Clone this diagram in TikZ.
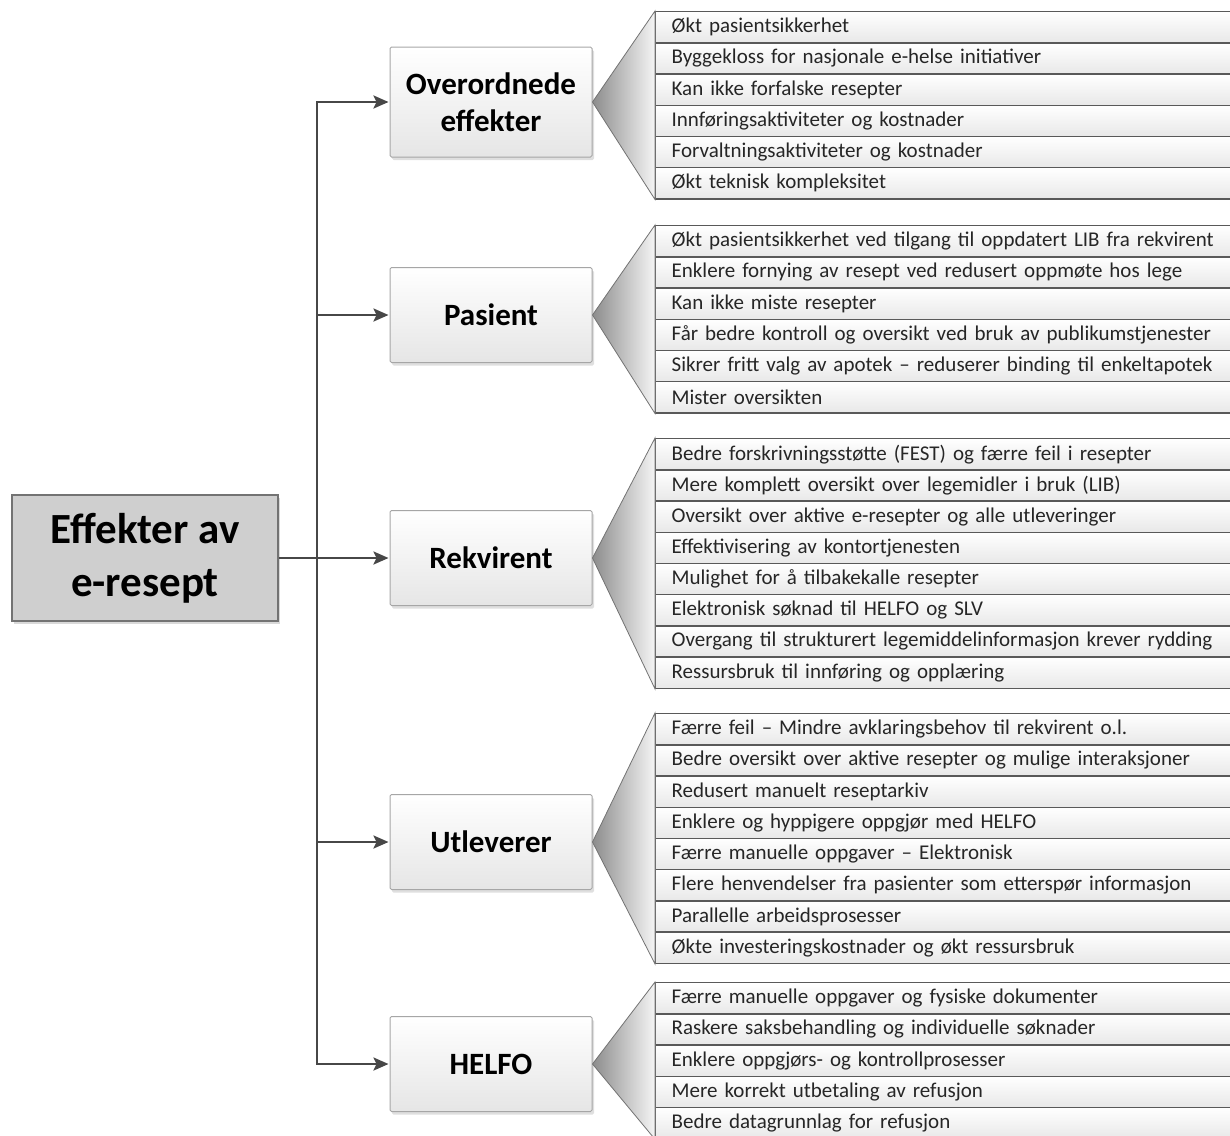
\documentclass[tikz,border=0pt]{standalone}
\usepackage{fontspec}
\setmainfont{Carlito}
\usetikzlibrary{arrows.meta,shadows}

\begin{document}
\begin{tikzpicture}[x=1pt,y=-1pt,
  rootbox/.style={draw=black!55, fill=black!19, line width=1.2pt,
    drop shadow={shadow xshift=2pt, shadow yshift=-3pt, opacity=0.3},
    minimum width=266pt, minimum height=126pt, align=center,
    font=\fontsize{43}{53}\selectfont\bfseries},
  catbox/.style={draw=black!35, top color=white, bottom color=black!10,
    line width=1pt, rounded corners=1.5pt,
    drop shadow={shadow xshift=2pt, shadow yshift=-3pt, opacity=0.25},
    minimum width=202pt, minimum height=95pt, align=center,
    font=\fontsize{31}{37}\selectfont\bfseries},
  rowbox/.style={draw=black!65, top color=white, bottom color=black!9,
    line width=1.3pt, anchor=north west, text width=630pt, inner xsep=16pt,
    minimum height=31.2pt, align=left, text=black!85,
    font=\fontsize{21}{24}\selectfont},
  fan/.style={draw=black!55, line width=0.8pt, left color=black!45, right color=black!4},
  link/.style={draw=black!72, line width=2.4pt},
  tip/.style={link, -{Stealth[length=15pt,width=13pt,inset=3pt]}, shorten >=1pt}
]
\useasboundingbox (0,0) rectangle (1230,1135);
\clip (0,0) rectangle (1230,1135);
% root
\node[rootbox] (root) at (145,558) {Effekter av\\e-resept};
% categories
\node[catbox, minimum height=110pt] (ov) at (491,102) {Overordnede\\effekter};
\node[catbox] (pa) at (491,315) {Pasient};
\node[catbox] (rk) at (491,558) {Rekvirent};
\node[catbox] (ut) at (491,842) {Utleverer};
\node[catbox] (he) at (491,1064) {HELFO};
% Overordnede effekter
\node[rowbox] (o1) at (655,11) {Økt pasientsikkerhet};
\node[rowbox] (o2) at (655,42.2) {Byggekloss for nasjonale e-helse initiativer};
\node[rowbox] (o3) at (655,73.4) {Kan ikke forfalske resepter};
\node[rowbox] (o4) at (655,104.6) {Innføringsaktiviteter og kostnader};
\node[rowbox] (o5) at (655,135.8) {Forvaltningsaktiviteter og kostnader};
\node[rowbox] (o6) at (655,167) {Økt teknisk kompleksitet};
% Pasient
\node[rowbox] (p1) at (655,225) {Økt pasientsikkerhet ved tilgang til oppdatert LIB fra rekvirent};
\node[rowbox] (p2) at (655,256.2) {Enklere fornying av resept ved redusert oppmøte hos lege};
\node[rowbox] (p3) at (655,287.4) {Kan ikke miste resepter};
\node[rowbox] (p4) at (655,318.6) {Får bedre kontroll og oversikt ved bruk av publikumstjenester};
\node[rowbox] (p5) at (655,349.8) {Sikrer fritt valg av apotek – reduserer binding til enkeltapotek};
\node[rowbox] (p6) at (655,381) {Mister oversikten};
% Rekvirent
\node[rowbox] (r1) at (655,438) {Bedre forskrivningsstøtte (FEST) og færre feil i resepter};
\node[rowbox] (r2) at (655,469.2) {Mere komplett oversikt over legemidler i bruk (LIB)};
\node[rowbox] (r3) at (655,500.4) {Oversikt over aktive e-resepter og alle utleveringer};
\node[rowbox] (r4) at (655,531.6) {Effektivisering av kontortjenesten};
\node[rowbox] (r5) at (655,562.8) {Mulighet for å tilbakekalle resepter};
\node[rowbox] (r6) at (655,594) {Elektronisk søknad til HELFO og SLV};
\node[rowbox] (r7) at (655,625.2) {Overgang til strukturert legemiddelinformasjon krever rydding};
\node[rowbox] (r8) at (655,656.4) {Ressursbruk til innføring og opplæring};
% Utleverer
\node[rowbox] (u1) at (655,713) {Færre feil – Mindre avklaringsbehov til rekvirent o.l.};
\node[rowbox] (u2) at (655,744.2) {Bedre oversikt over aktive resepter og mulige interaksjoner};
\node[rowbox] (u3) at (655,775.4) {Redusert manuelt reseptarkiv};
\node[rowbox] (u4) at (655,806.6) {Enklere og hyppigere oppgjør med HELFO};
\node[rowbox] (u5) at (655,837.8) {Færre manuelle oppgaver – Elektronisk};
\node[rowbox] (u6) at (655,869) {Flere henvendelser fra pasienter som etterspør informasjon};
\node[rowbox] (u7) at (655,900.2) {Parallelle arbeidsprosesser};
\node[rowbox] (u8) at (655,931.4) {Økte investeringskostnader og økt ressursbruk};
% HELFO
\node[rowbox] (h1) at (655,982) {Færre manuelle oppgaver og fysiske dokumenter};
\node[rowbox] (h2) at (655,1013.2) {Raskere saksbehandling og individuelle søknader};
\node[rowbox] (h3) at (655,1044.4) {Enklere oppgjørs- og kontrollprosesser};
\node[rowbox] (h4) at (655,1075.6) {Mere korrekt utbetaling av refusjon};
\node[rowbox] (h5) at (655,1106.8) {Bedre datagrunnlag for refusjon};
% fans
\draw[fan] (ov.east) -- (o1.north west) -- (o6.south west) -- cycle;
\draw[fan] (pa.east) -- (p1.north west) -- (p6.south west) -- cycle;
\draw[fan] (rk.east) -- (r1.north west) -- (r8.south west) -- cycle;
\draw[fan] (ut.east) -- (u1.north west) -- (u8.south west) -- cycle;
\draw[fan] (he.east) -- (h1.north west) -- (h5.south west) -- cycle;
% connectors
\coordinate (tt) at (317,102);
\coordinate (tb) at (317,1064);
\draw[tip] (root.east) -- (rk.west);
\draw[tip] (root.east -| tt) -- (tt) -- (ov.west);
\draw[tip] (root.east -| tt) -- (tb) -- (he.west);
\draw[tip] (pa.west -| tt) -- (pa.west);
\draw[tip] (ut.west -| tt) -- (ut.west);
\end{tikzpicture}
\end{document}
